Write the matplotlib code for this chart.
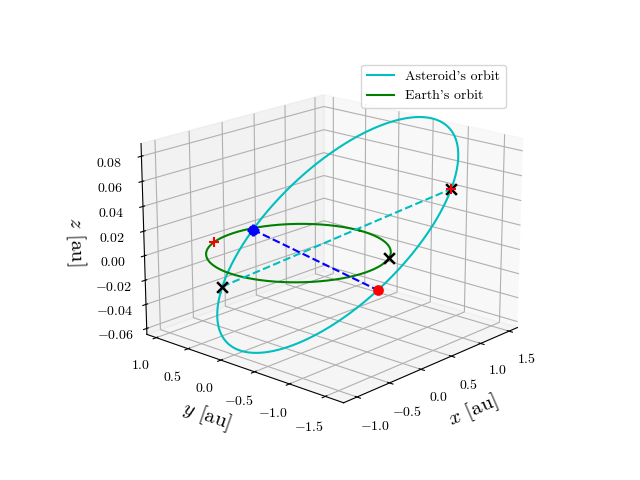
import numpy as np
import matplotlib.pyplot as plt

plt.rcParams["font.family"] = "cmr10"
plt.rcParams["mathtext.fontset"] = "cm"
plt.rcParams["axes.formatter.use_mathtext"] = True

# asteroid orbital elements
a_ast = 1.3
e_ast = 0.32
inc = np.radians(3.5)
Omega = np.radians(256.0)
omega = np.radians(225.0)

# true anomalies of marked points on the asteroid orbit [deg]
nu_black = [-5.0, 172.0]
nu_nodes = [180.0 - 225.0, 0.0 - 225.0]   # descending (blue), ascending (red)

# Earth positions on its orbit (longitude, deg)
earth_cross = [300.0]
earth_plus = [112.0]


def ast_pos(nu):
    nu = np.asarray(nu)
    r = a_ast * (1 - e_ast**2) / (1 + e_ast * np.cos(nu))
    u = nu + omega
    x = r * (np.cos(Omega) * np.cos(u) - np.sin(Omega) * np.sin(u) * np.cos(inc))
    y = r * (np.sin(Omega) * np.cos(u) + np.cos(Omega) * np.sin(u) * np.cos(inc))
    z = r * np.sin(u) * np.sin(inc)
    return x, y, z


t = np.linspace(0, 2 * np.pi, 400)
xa, ya, za = ast_pos(t)

fig = plt.figure(figsize=(6.4, 4.8), dpi=100)
ax = fig.add_subplot(111, projection="3d")
ax.plot(xa, ya, za, color="c", label=r"Asteroid's orbit")
ax.plot(np.cos(t), np.sin(t), 0 * t, color="g", label=r"Earth's orbit")

bx, by, bz = ast_pos(np.radians(nu_black))
ax.plot(bx, by, bz, "c--")
nx, ny, nz = ast_pos(np.radians(nu_nodes))
ax.plot(nx, ny, nz, "b--")

ax.scatter(bx, by, bz, marker="x", color="k", s=60, linewidths=1.8, depthshade=False, zorder=5)
ax.scatter(bx[1:], by[1:], bz[1:], marker="+", color="r", s=60, linewidths=1.5, depthshade=False, zorder=4)
ax.scatter(nx[:1], ny[:1], nz[:1], marker="o", color="b", s=45, depthshade=False, zorder=5)
ax.scatter(nx[:1], ny[:1], nz[:1], marker="+", color="b", s=80, linewidths=2, depthshade=False, zorder=5)
ax.scatter(nx[1:], ny[1:], nz[1:], marker="o", color="r", s=45, depthshade=False, zorder=5)

lc = np.radians(earth_cross)
ax.scatter(np.cos(lc), np.sin(lc), 0 * lc, marker="x", color="k", s=60, linewidths=1.8, depthshade=False, zorder=5)
lp = np.radians(earth_plus)
ax.scatter(np.cos(lp), np.sin(lp), 0 * lp, marker="+", color="r", s=60, linewidths=1.5, depthshade=False, zorder=5)

ax.set_xlim(-1.2, 1.65)
ax.set_ylim(-1.75, 1.15)
ax.set_zlim(-0.065, 0.09)
ax.set_xticks([-1.0, -0.5, 0.0, 0.5, 1.0, 1.5])
ax.set_yticks([-1.5, -1.0, -0.5, 0.0, 0.5, 1.0])
ax.set_zticks([-0.06, -0.04, -0.02, 0.0, 0.02, 0.04, 0.06, 0.08])
ax.set_xlabel(r"$x$ [au]", fontsize=15)
ax.set_ylabel(r"$y$ [au]", fontsize=15)
ax.set_zlabel(r"$z$ [au]", fontsize=15)
ax.view_init(elev=18, azim=-138)
ax.set_box_aspect(None, zoom=1.12)
ax.legend(loc="upper right")
plt.savefig("out.png", dpi=100)
